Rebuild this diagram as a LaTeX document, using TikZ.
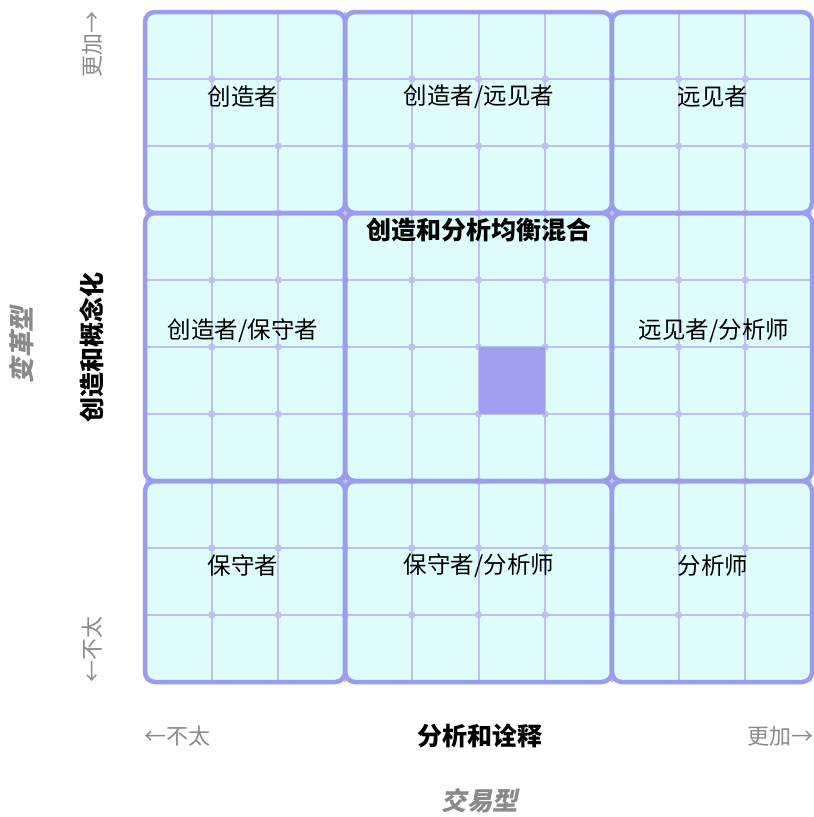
\documentclass[tikz,border=0pt]{standalone}
\usepackage{fontspec}
\newfontfamily\cjk{Noto Sans CJK SC}
\newfontfamily\cjksl[FakeSlant=0.2]{Noto Sans CJK SC}
\definecolor{cellbg}{HTML}{DFFDFD}
\definecolor{thinln}{HTML}{BCC0F4}
\definecolor{thickln}{HTML}{9C9CEE}
\definecolor{markfill}{HTML}{9F9FF2}
\definecolor{axgray}{HTML}{8A8A8A}
\begin{document}
\begin{tikzpicture}[x=1pt,y=-1pt,
  lbl/.style={font=\cjk\fontsize{23.5}{27}\selectfont, text=black, inner sep=0pt},
  boldlbl/.style={font=\cjk\bfseries\fontsize{25}{29}\selectfont, text=black, inner sep=0pt},
  graylbl/.style={font=\cjk\fontsize{22}{26}\selectfont, text=axgray, inner sep=0pt},
  typelbl/.style={font=\cjksl\bfseries\fontsize{25.5}{29}\selectfont, text=axgray, inner sep=0pt},
  gridln/.style={draw=thinln, line width=2pt},
  region/.style={draw=thickln, line width=4.5pt, rounded corners=10pt}]
\useasboundingbox (0,0) rectangle (814,817);
% background
\fill[cellbg] (145,12) rectangle (812,682);
% thin grid
\foreach \i in {1,...,9}{
  \draw[gridln] ({145+\i*66.7},12) -- ({145+\i*66.7},682);
  \draw[gridln] (145,{12+\i*67}) -- (812,{12+\i*67});
}
\foreach \i in {1,...,9}{
  \foreach \j in {1,...,9}{
    \fill[thinln] ({145+\i*66.7},{12+\j*67}) circle (3.6pt);
  }
}
% highlighted cell
\fill[markfill] (478.5,347) rectangle (545.2,414);
% regions
\draw[region] (145,12) rectangle (345.1,213);
\draw[region] (345.1,12) rectangle (611.9,213);
\draw[region] (611.9,12) rectangle (812,213);
\draw[region] (145,213) rectangle (345.1,481);
\draw[region] (345.1,213) rectangle (611.9,481);
\draw[region] (611.9,213) rectangle (812,481);
\draw[region] (145,481) rectangle (345.1,682);
\draw[region] (345.1,481) rectangle (611.9,682);
\draw[region] (611.9,481) rectangle (812,682);
% region labels
\node[lbl] (c) at (243,97) {创造者};
\node[lbl] (cv) at (479,97) {创造者/远见者};
\node[lbl] (v) at (713,97) {远见者};
\node[boldlbl] (bal) at (479,230) {创造和分析均衡混合};
\node[lbl] (cc) at (243,331) {创造者/保守者};
\node[lbl] (va) at (714,331) {远见者/分析师};
\node[lbl] (k) at (243,566) {保守者};
\node[lbl] (ka) at (479,566) {保守者/分析师};
\node[lbl] (a) at (713,566) {分析师};
% axes
\node[boldlbl] (xax) at (480,736) {分析和诠释};
\node[graylbl, anchor=west] (xless) at (144,736) {←不太};
\node[graylbl, anchor=east] (xmore) at (814,736) {更加→};
\node[typelbl] (xtype) at (480,801) {交易型};
\node[boldlbl, rotate=90] (yax) at (92,347) {创造和概念化};
\node[graylbl, rotate=90, anchor=east] (ymore) at (92,11) {更加→};
\node[graylbl, rotate=90, anchor=west] (yless) at (92,683) {←不太};
\node[typelbl, rotate=90] (ytype) at (22,345) {变革型};
\end{tikzpicture}
\end{document}
